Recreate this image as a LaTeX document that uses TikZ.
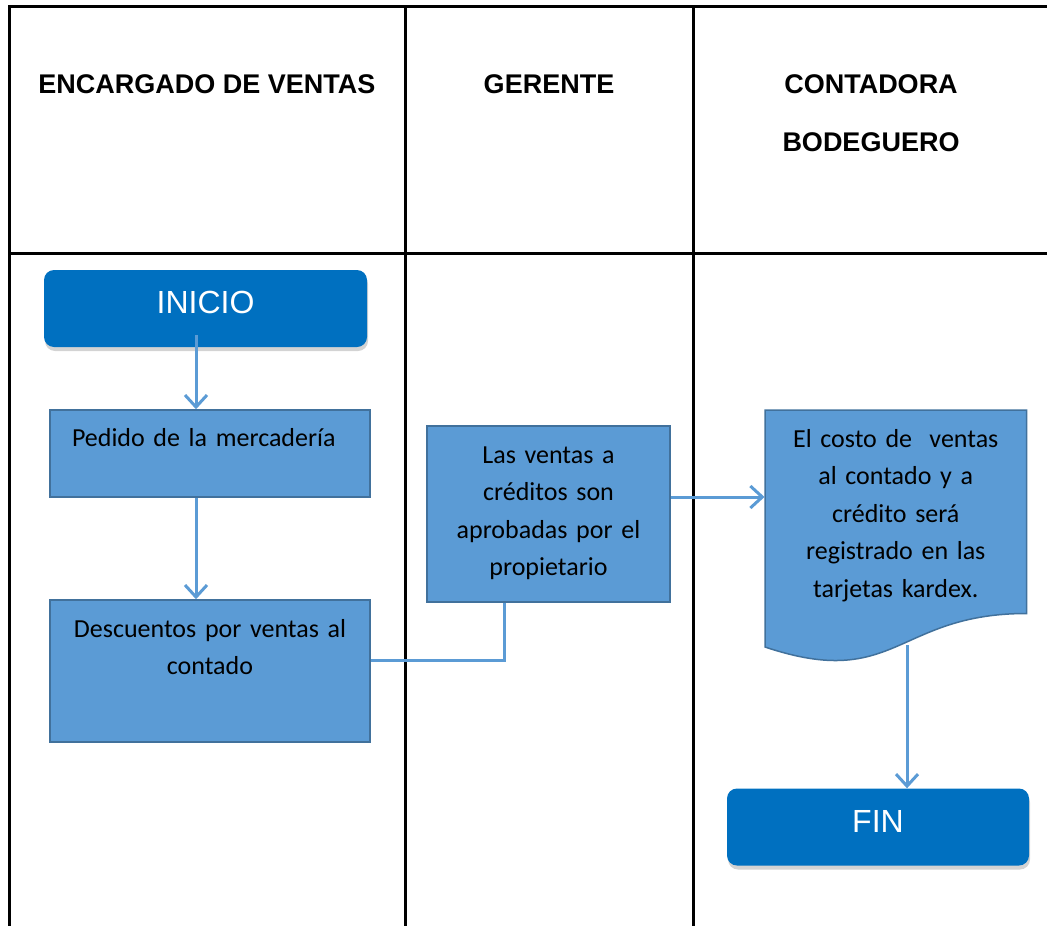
\documentclass[tikz,border=0pt]{standalone}
\usepackage{fontspec}
\setmainfont{Carlito}
\newfontfamily\arialfont{Liberation Sans}
\usetikzlibrary{calc}
\usetikzlibrary{positioning}
\usetikzlibrary{arrows.meta}
\usetikzlibrary{shadows}

\definecolor{startblue}{HTML}{0070C0}
\definecolor{boxblue}{HTML}{5B9BD5}
\definecolor{boxedge}{HTML}{41719C}

\begin{document}
\begin{tikzpicture}[%
  >={Straight Barb[length=12pt,width=22pt]},
  x=1pt, y=-1pt,
  lane/.style={line width=3pt,black},
  head/.style={font=\arialfont\bfseries\fontsize{27}{32}\selectfont},
  terminal/.style={rectangle,rounded corners=10pt,fill=startblue,text=white,
    minimum width=323pt,minimum height=77pt,text height=23pt,text depth=13pt,
    font=\arialfont\fontsize{32}{38}\selectfont,
    drop shadow={shadow xshift=1pt,shadow yshift=-4pt,opacity=0.35}},
  process/.style={rectangle,draw=boxedge,line width=1.5pt,fill=boxblue,
    inner ysep=0pt,inner xsep=8pt,align=center,
    font=\fontsize{26}{37.5}\selectfont},
  flow/.style={draw=boxblue,line width=3pt},
]

  \useasboundingbox (0,0) rectangle (1047,926);

  % swimlanes
  \draw[lane] (9,926) -- (9,6) -- (1047,6);
  \draw[lane] (9,253) -- (1047,253);
  \draw[lane] (405,6) -- (405,926);
  \draw[lane] (693,6) -- (693,926);

  \node[head] (encargado) at (207,84) {ENCARGADO DE VENTAS};
  \node[head] (gerente) at (549,84) {GERENTE};
  \node[head] (contadora) at (871,84) {CONTADORA};
  \node[head] (bodeguero) at (871,142) {BODEGUERO};

  % boxes
  \node[terminal] (inicio) at (205.5,308.5) {INICIO};

  \node[process,align=left,inner xsep=22pt,text width=276pt,
    text height=36pt,text depth=51pt] (pedido) at (210,453.5)
    {Pedido de la mercadería};

  \node[process,text width=304pt,text height=37pt,text depth=105pt]
    (descuentos) at (210,671) {Descuentos por ventas al\\contado};

  \node[process,text width=227pt,text height=37pt,text depth=139pt]
    (ventas) at (548.5,514)
    {Las ventas a\\créditos son\\aprobadas por el\\propietario};

  \draw[draw=boxedge,line width=1.5pt,fill=boxblue]
    (765,410) -- (1026.5,410) -- (1026.5,613.5)
    .. controls (896,613.5) and (896,691) .. (765,647) -- cycle;
  \node[text width=246pt,inner xsep=8pt,inner ysep=0pt,align=center,
    font=\fontsize{26}{37.5}\selectfont,text height=37pt,text depth=217pt]
    (registro) at (895.75,537)
    {El costo de~ ventas\\al contado y a\\crédito será\\registrado en las\\tarjetas kardex.};

  \node[terminal,minimum width=302pt] (fin) at (878,827) {FIN};

  % connectors
  \draw[flow,->] ([xshift=-9.5pt,yshift=12pt]inicio.south) -- ([xshift=-14pt]pedido.north);
  \draw[flow,->] ([xshift=-14pt]pedido.south) -- ([xshift=-14pt]descuentos.north);
  \draw[flow] ([yshift=11pt]descuentos.east) -| ([xshift=-44.5pt]ventas.south);
  \coordinate (v1) at ([yshift=17pt]ventas.east);
  \draw[flow,->] (v1) -- (v1 -| registro.west);
  \coordinate (d1) at (907,645);
  \draw[flow,->] (d1) -- (d1 |- fin.north);

\end{tikzpicture}
\end{document}
